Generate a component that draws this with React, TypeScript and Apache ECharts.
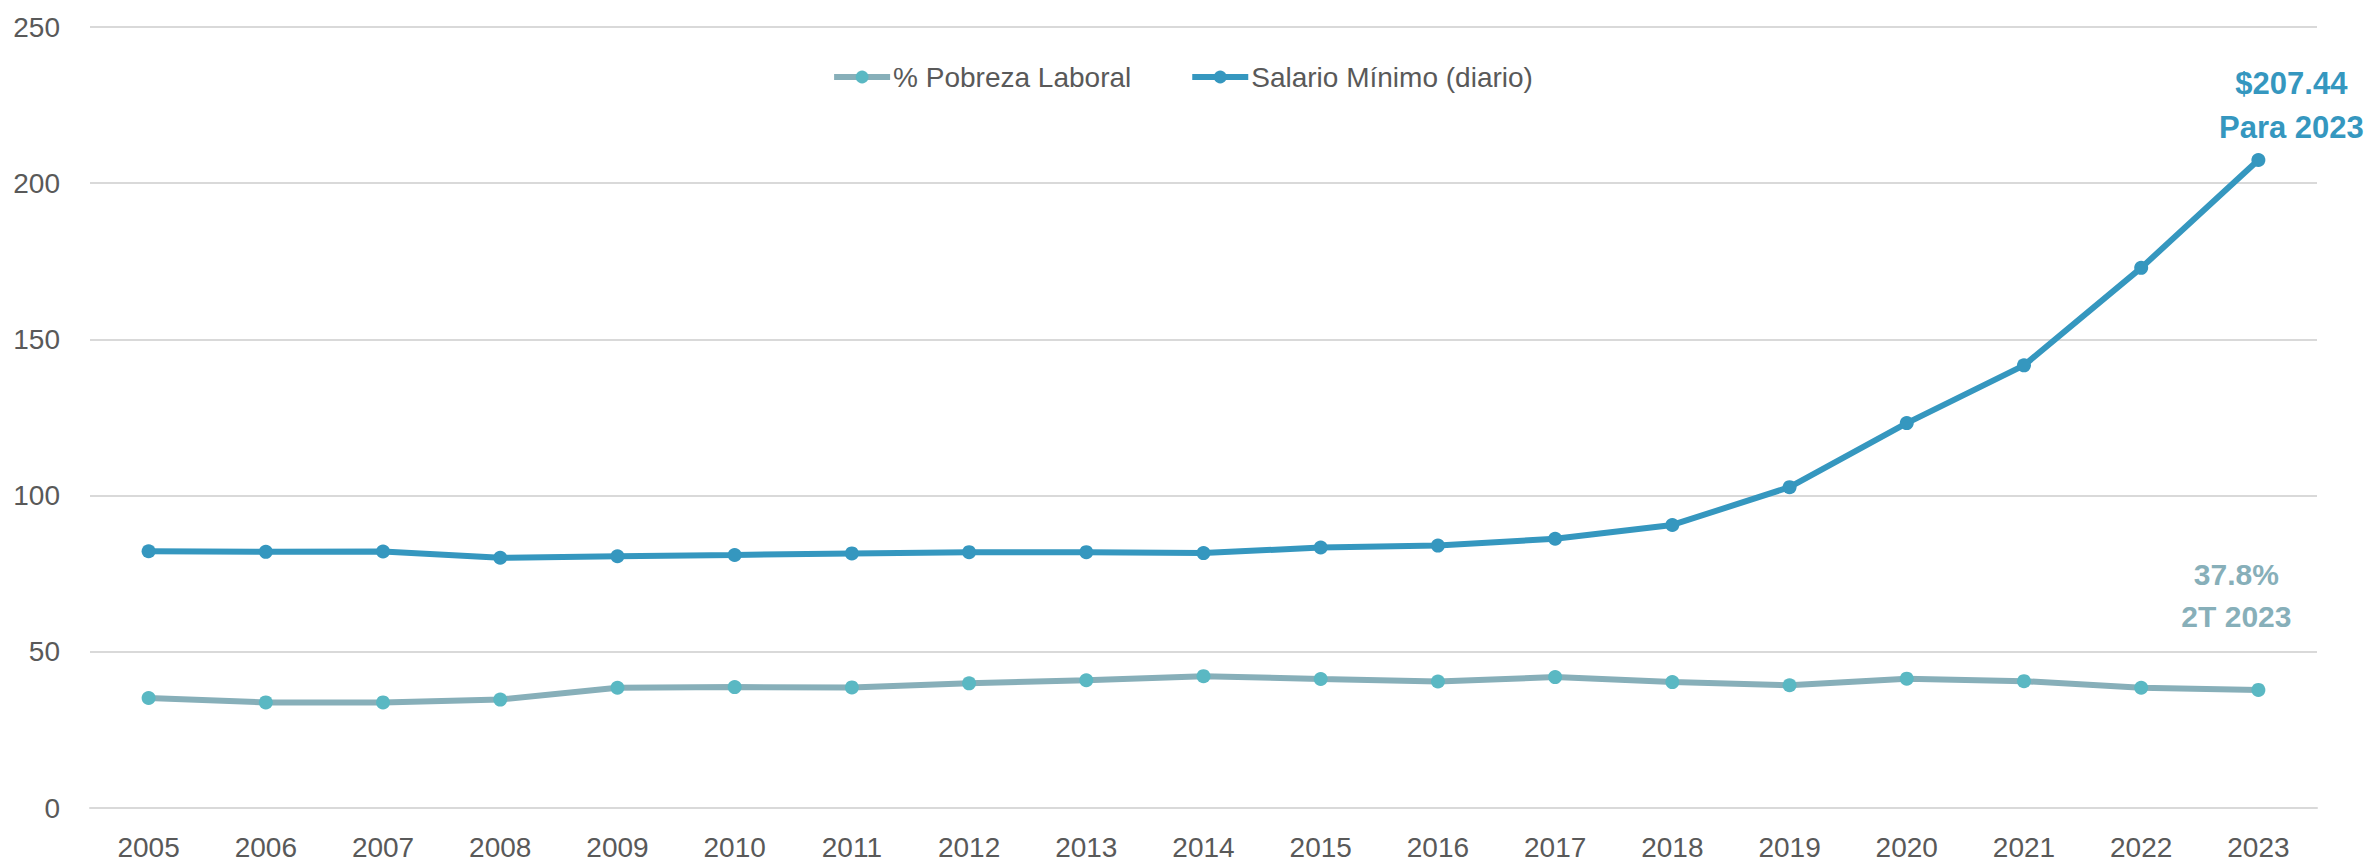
import React, { useEffect, useRef } from "react";
import * as echarts from "echarts";

const years = ["2005","2006","2007","2008","2009","2010","2011","2012","2013","2014","2015","2016","2017","2018","2019","2020","2021","2022","2023"];
const pobreza = [35.2,33.8,33.8,34.7,38.5,38.7,38.6,39.9,40.9,42.2,41.3,40.5,41.9,40.3,39.3,41.4,40.6,38.5,37.8];
const salario = [82.2,82.0,82.1,80.1,80.6,81.0,81.5,81.9,81.9,81.6,83.4,84.0,86.2,90.6,102.7,123.2,141.7,172.9,207.44];
const yTicks = { min: 0, max: 250, interval: 50 };

const FONT = "'Liberation Sans', Arial, sans-serif";
const C_SAL = "#3597bf";
const C_POB_LINE = "#87afb9";
const C_POB_DOT = "#5ab8c3";

export default function App() {
  const ref = useRef<HTMLDivElement>(null);
  useEffect(() => {
    document.body.style.margin = "0";
    const chart = echarts.init(ref.current!, null, { renderer: "svg" });
    const last = years.length - 1;
    const pobData = pobreza.map((v, i) =>
      i === last
        ? {
            value: v,
            label: {
              show: true,
              position: "top",
              offset: [-22, -40],
              formatter: "{b|" + v.toFixed(1) + "%}\n{b|2T 2023}",
              rich: { b: { color: C_POB_LINE, fontWeight: "bold", fontSize: 30, lineHeight: 42, fontFamily: FONT } },
            },
          }
        : v
    );
    const salData = salario.map((v, i) =>
      i === last
        ? {
            value: v,
            label: {
              show: true,
              position: "top",
              offset: [33, 2],
              formatter: "{b|$" + v.toFixed(2) + "}\n{b|Para 2023}",
              rich: { b: { color: C_SAL, fontWeight: "bold", fontSize: 31, lineHeight: 44, fontFamily: FONT } },
            },
          }
        : v
    );
    chart.setOption({
      animation: false,
      textStyle: { fontFamily: FONT },
      grid: { left: 90, right: 47, top: 27, bottom: 54, containLabel: false },
      legend: {
        top: 58,
        left: "center",
        itemWidth: 56,
        itemHeight: 16,
        itemGap: 58,
        lineStyle: { width: 6 },
        textStyle: { fontSize: 28, color: "#595959", fontFamily: FONT, padding: [0, 0, 0, -2] },
        data: ["% Pobreza Laboral", "Salario Mínimo (diario)"],
      },
      xAxis: {
        type: "category",
        data: years,
        boundaryGap: true,
        axisLine: { show: true, lineStyle: { color: "#d9d9d9", width: 2 } },
        axisTick: { show: false },
        axisLabel: { color: "#595959", fontSize: 28, margin: 25, fontFamily: FONT },
      },
      yAxis: {
        type: "value",
        min: yTicks.min,
        max: yTicks.max,
        interval: yTicks.interval,
        axisLine: { show: false },
        axisTick: { show: false },
        splitLine: { lineStyle: { color: "#d9d9d9", width: 2 } },
        axisLabel: { color: "#595959", fontSize: 28, margin: 30, fontFamily: FONT },
      },
      series: [
        {
          name: "% Pobreza Laboral",
          type: "line",
          data: pobData,
          symbol: "circle",
          symbolSize: 14,
          lineStyle: { color: C_POB_LINE, width: 6 },
          itemStyle: { color: C_POB_DOT },
        },
        {
          name: "Salario Mínimo (diario)",
          type: "line",
          data: salData,
          symbol: "circle",
          symbolSize: 14,
          lineStyle: { color: C_SAL, width: 6 },
          itemStyle: { color: C_SAL },
        },
      ],
    });
    return () => chart.dispose();
  }, []);
  return <div ref={ref} style={{ width: 2364, height: 862 }} />;
}
